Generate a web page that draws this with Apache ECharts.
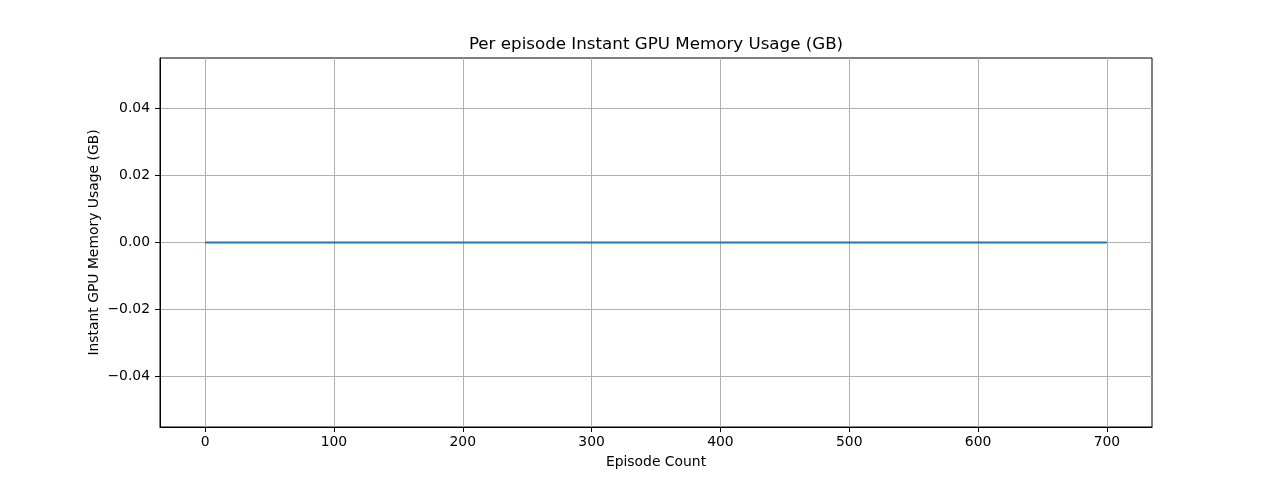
<!DOCTYPE html>
<html>
<head>
<meta charset="utf-8">
<script src="https://cdn.jsdelivr.net/npm/echarts@6/dist/echarts.min.js"></script>
<style>
html,body{margin:0;padding:0;background:#fff;}
#chart{width:1280px;height:480px;}
</style>
</head>
<body>
<div id="chart"></div>
<script>
// Data
const episodes = [0, 100, 200, 300, 400, 500, 600, 700];
const gpuMemoryGB = [0, 0, 0, 0, 0, 0, 0, 0];
const xTicks = [0, 100, 200, 300, 400, 500, 600, 700];
const yTicks = [-0.04, -0.02, 0, 0.02, 0.04];

const FONT = 'DejaVu Sans';
const chart = echarts.init(document.getElementById('chart'), null, {renderer: 'canvas'});
const fmtY = v => (v < 0 ? '\u2212' : '') + Math.abs(v).toFixed(2);

chart.setOption({
  animation: false,
  backgroundColor: '#ffffff',
  title: {
    text: 'Per episode Instant GPU Memory Usage (GB)',
    left: 651, top: 31, textAlign: 'center',
    textStyle: {fontFamily: FONT, fontSize: 16.7, fontWeight: 'normal', color: '#000'}
  },
  grid: {left: 160, right: 128, top: 58, bottom: 53, show: true, borderColor: '#000', borderWidth: 1, backgroundColor: 'transparent'},
  xAxis: {
    type: 'value', min: -35, max: 735,
    name: 'Episode Count', nameLocation: 'middle', nameGap: 28, nameMoveOverlap: false,
    nameTextStyle: {fontFamily: FONT, fontSize: 13.9, color: '#000'},
    axisLine: {show: true, onZero: false, lineStyle: {color: '#000', width: 1}},
    axisTick: {show: true, inside: false, length: 5, customValues: xTicks, lineStyle: {color: '#000', width: 1}},
    axisLabel: {customValues: xTicks, margin: 8, fontFamily: FONT, fontSize: 13.9, color: '#000'},
    splitLine: {show: true, lineStyle: {color: '#b0b0b0', width: 1}}
  },
  yAxis: {
    type: 'value', min: -0.055, max: 0.055,
    name: 'Instant GPU Memory Usage (GB)', nameLocation: 'middle', nameRotate: 90, nameGap: 59, nameMoveOverlap: false,
    nameTextStyle: {fontFamily: FONT, fontSize: 13.9, color: '#000'},
    axisLine: {show: true, onZero: false, lineStyle: {color: '#000', width: 1}},
    axisTick: {show: true, inside: false, length: 5, customValues: yTicks, lineStyle: {color: '#000', width: 1}},
    axisLabel: {customValues: yTicks, margin: 10, fontFamily: FONT, fontSize: 13.9, color: '#000', formatter: fmtY},
    splitLine: {show: true, lineStyle: {color: '#b0b0b0', width: 1}}
  },
  series: [{
    type: 'line',
    data: episodes.map((e, i) => [e, gpuMemoryGB[i]]),
    showSymbol: false, symbol: 'none',
    lineStyle: {color: '#1f77b4', width: 2},
    itemStyle: {color: '#1f77b4'}
  }]
});
</script>
</body>
</html>
